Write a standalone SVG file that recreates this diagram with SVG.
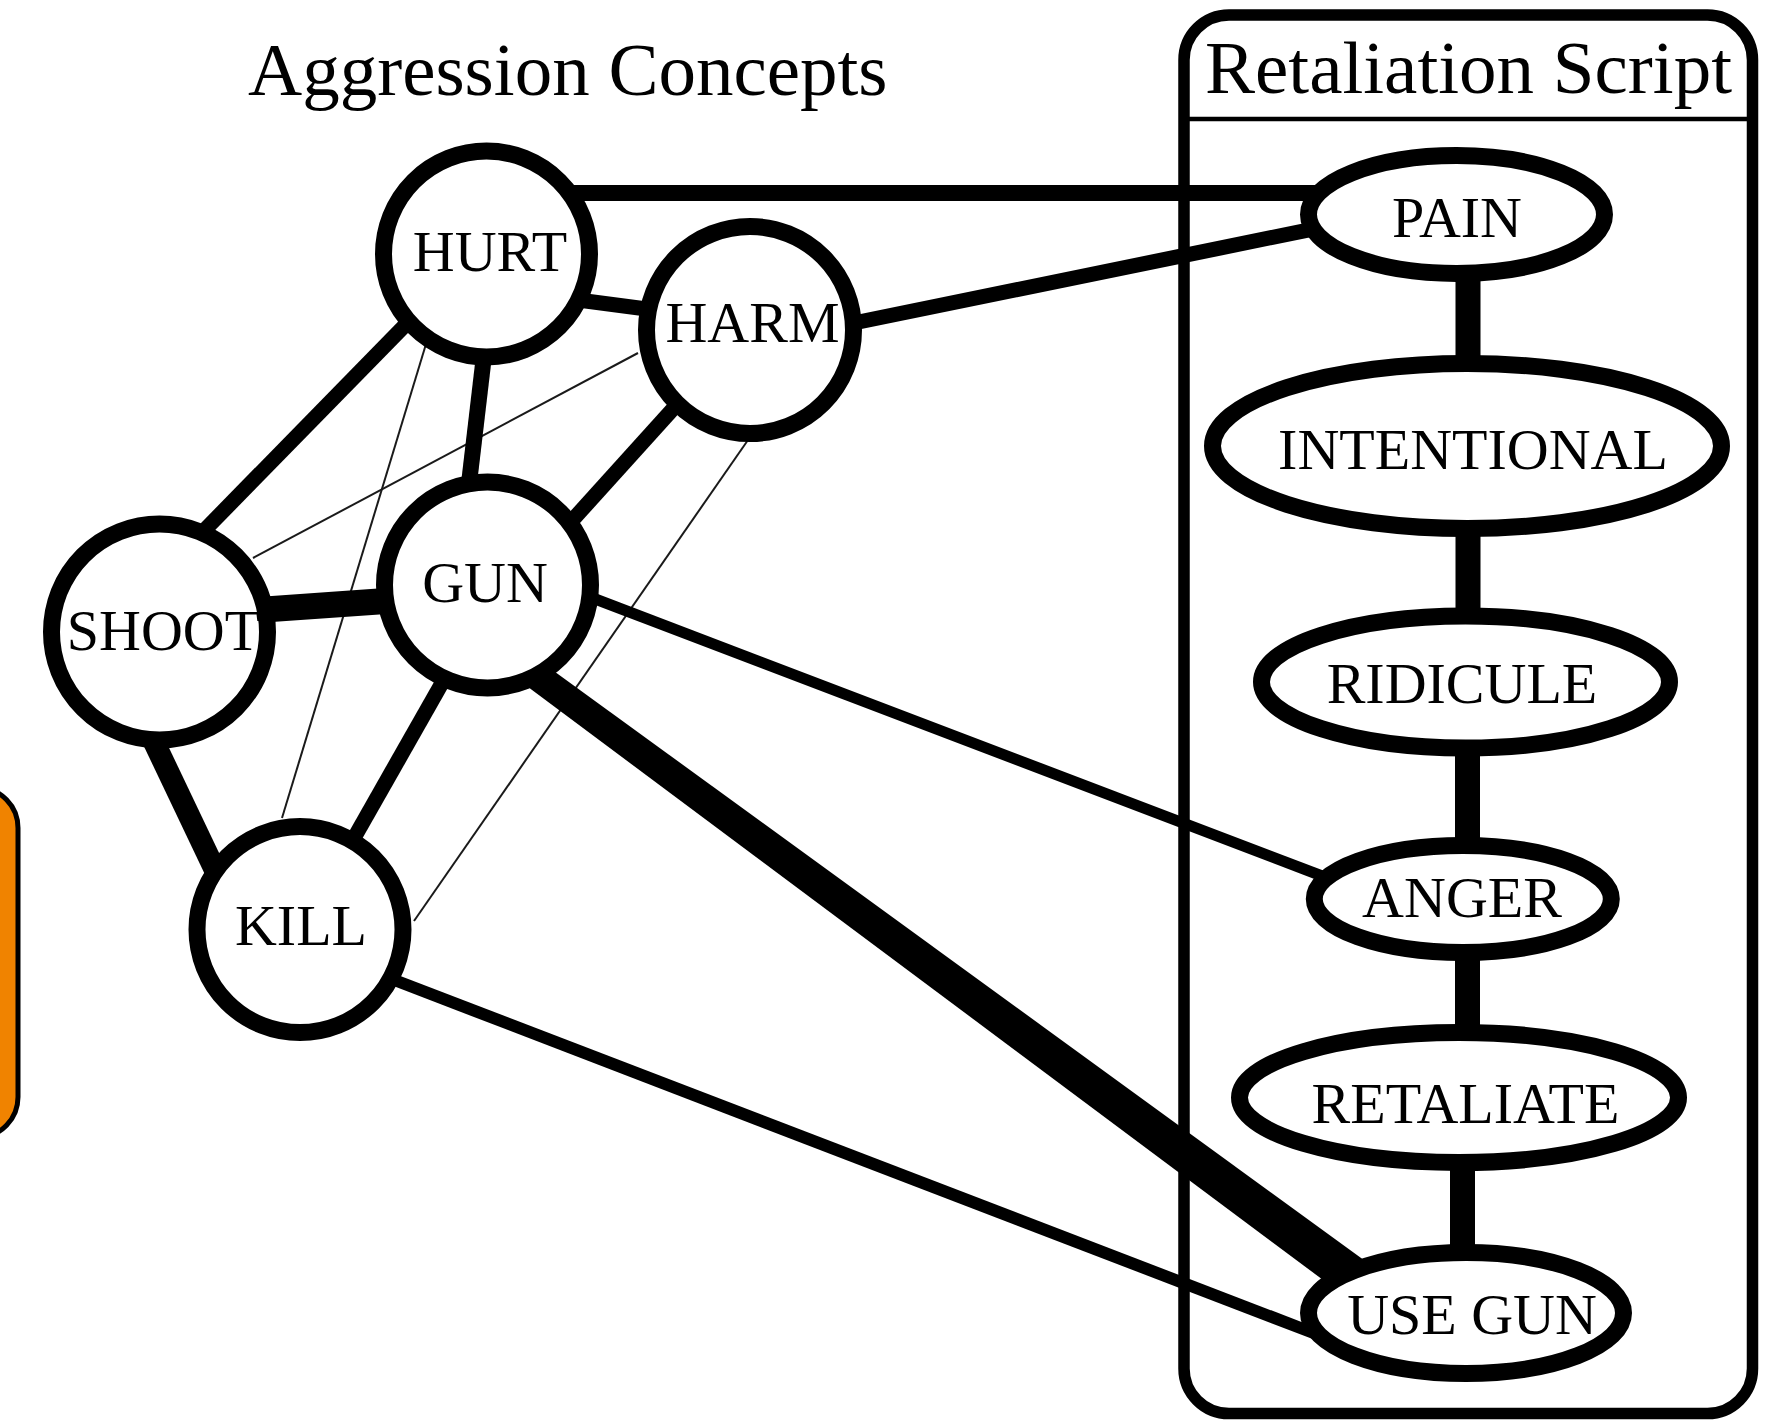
<svg xmlns="http://www.w3.org/2000/svg" width="1768" height="1421" viewBox="0 0 1768 1421">
  <style>
    .node { fill: #ffffff; stroke: #000000; stroke-width: 17; }
    .lbl { font-family: "Liberation Serif", "Times New Roman", serif; font-size: 58px; fill: #000000; text-anchor: middle; }
    .title { font-family: "Liberation Serif", "Times New Roman", serif; font-size: 75px; fill: #000000; }
    .edge { stroke: #000000; fill: none; stroke-linecap: butt; }
    .thin { stroke: #1a1a1a; stroke-width: 2; fill: none; }
  </style>
  <rect width="1768" height="1421" fill="#ffffff"/>

  <g id="side-box">
    <rect x="-60" y="788" width="78" height="349" rx="40" ry="40" fill="#F08300" stroke="#000000" stroke-width="5"/>
  </g>

  <g id="retaliation-script-panel">
    <rect x="1184" y="15" width="568.5" height="1398.5" rx="45" ry="45" fill="#ffffff" stroke="#000000" stroke-width="11.5"/>
    <line x1="1184" y1="119" x2="1752" y2="119" stroke="#000000" stroke-width="4.5"/>
    <text class="title" x="1205" y="93">Retaliation Script</text>
  </g>

  <g id="aggression-title">
    <text class="title" x="248" y="95">Aggression Concepts</text>
  </g>

  <g id="connectors">
    <!-- thin links -->
    <line class="thin" x1="426.7" y1="341.7" x2="282" y2="818"/>
    <line class="thin" x1="638" y1="353" x2="253" y2="558"/>
    <line class="thin" x1="748" y1="440" x2="414" y2="921"/>
    <!-- medium links -->
    <line class="edge" stroke-width="16" x1="560" y1="193" x2="1320" y2="193"/>
    <line class="edge" stroke-width="15" x1="800" y1="334" x2="1330" y2="225.6"/>
    <line class="edge" stroke-width="15" x1="540" y1="295" x2="700" y2="316"/>
    <line class="edge" stroke-width="15" x1="420" y1="310" x2="190" y2="545"/>
    <line class="edge" stroke-width="16" x1="487" y1="330" x2="464.7" y2="520"/>
    <line class="edge" stroke-width="15" x1="700" y1="379" x2="550" y2="545"/>
    <line class="edge" stroke-width="26" x1="250" y1="610.5" x2="400" y2="600"/>
    <line class="edge" stroke-width="22" x1="145" y1="723" x2="222.6" y2="886"/>
    <line class="edge" stroke-width="15" x1="451.9" y1="665.6" x2="347" y2="850.4"/>
    <line class="edge" stroke-width="11" x1="590" y1="597" x2="1330" y2="879"/>
    <line class="edge" stroke-width="12" x1="380" y1="974.5" x2="1320" y2="1335.5"/>
    <!-- GUN to USE GUN, heaviest link -->
    <polygon fill="#000000" points="520,646.4 1370,1264.4 1370,1315 520,681"/>
    <!-- script chain -->
    <line class="edge" stroke-width="25" x1="1468" y1="260" x2="1468" y2="380"/>
    <line class="edge" stroke-width="25" x1="1468" y1="510" x2="1468" y2="630"/>
    <line class="edge" stroke-width="25" x1="1467.5" y1="735" x2="1467.5" y2="860"/>
    <line class="edge" stroke-width="25" x1="1467.5" y1="940" x2="1467.5" y2="1050"/>
    <line class="edge" stroke-width="25" x1="1462.5" y1="1150" x2="1462.5" y2="1270"/>
  </g>

  <g id="node-hurt">
    <circle class="node" cx="486.5" cy="254" r="103"/>
    <text class="lbl" x="490" y="271">HURT</text>
  </g>
  <g id="node-harm">
    <circle class="node" cx="750" cy="330" r="103.5"/>
    <text class="lbl" x="752.5" y="342">HARM</text>
  </g>
  <g id="node-gun">
    <circle class="node" cx="487.5" cy="585" r="103"/>
    <text class="lbl" x="485" y="602">GUN</text>
  </g>
  <g id="node-shoot">
    <circle class="node" cx="159.5" cy="632" r="108"/>
    <text class="lbl" x="163.5" y="650">SHOOT</text>
  </g>
  <g id="node-kill">
    <circle class="node" cx="300" cy="929.6" r="103"/>
    <text class="lbl" x="301" y="945">KILL</text>
  </g>

  <g id="node-pain">
    <ellipse class="node" cx="1456.5" cy="214.5" rx="148" ry="59"/>
    <text class="lbl" x="1457" y="237">PAIN</text>
  </g>
  <g id="node-intentional">
    <ellipse class="node" cx="1467" cy="446" rx="254.5" ry="82.5"/>
    <text class="lbl" x="1473" y="469">INTENTIONAL</text>
  </g>
  <g id="node-ridicule">
    <ellipse class="node" cx="1465.5" cy="682" rx="204" ry="66"/>
    <text class="lbl" x="1462" y="703">RIDICULE</text>
  </g>
  <g id="node-anger">
    <ellipse class="node" cx="1462.8" cy="899" rx="148.5" ry="53.5"/>
    <text class="lbl" x="1462" y="917">ANGER</text>
  </g>
  <g id="node-retaliate">
    <ellipse class="node" cx="1459" cy="1097.5" rx="219.5" ry="65"/>
    <text class="lbl" x="1465.5" y="1123">RETALIATE</text>
  </g>
  <g id="node-use-gun">
    <ellipse class="node" cx="1466" cy="1313" rx="157.5" ry="60.5"/>
    <text class="lbl" x="1472" y="1334">USE GUN</text>
  </g>
</svg>
